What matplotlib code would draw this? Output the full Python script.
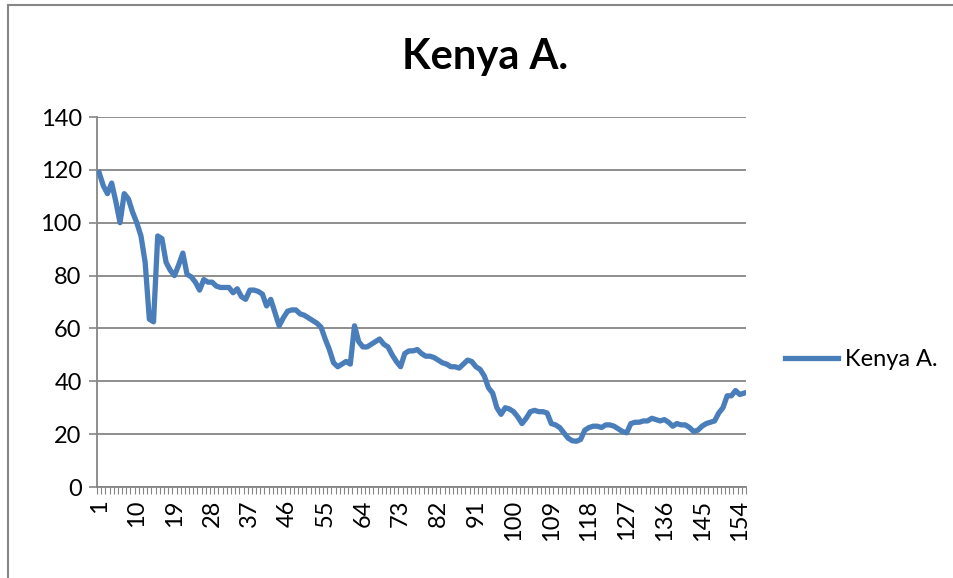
import numpy as np
import matplotlib
matplotlib.use("Agg")
from matplotlib import pyplot as plt
from matplotlib.patches import Rectangle

# valores (categorias 1..155)
kenya_a = [
    119, 114, 111, 115, 108, 100, 111, 109, 104, 100,
    95, 85, 63.5, 62.5, 95, 94, 85, 82, 80, 84,
    88.5, 80.5, 79.5, 77.5, 74.5, 78.5, 77.5, 77.5, 76, 75.5,
    75.5, 75.5, 73.5, 75, 72, 71, 74.5, 74.5, 74, 73,
    68.5, 71, 66, 61, 64, 66.5, 67, 67, 65.5, 65,
    64, 63, 62, 60.5, 56, 52, 47, 45.5, 46.5, 47.5,
    46.5, 61, 55, 53, 53, 54, 55, 56, 54, 53,
    50, 47.5, 45.5, 50.5, 51.5, 51.5, 52, 50.5, 49.5, 49.5,
    49, 48, 47, 46.5, 45.5, 45.5, 45, 46.5, 48, 47.5,
    45.5, 44.5, 42, 37.5, 35.5, 30, 27.5, 30, 29.5, 28.5,
    26.5, 24, 26, 28.5, 29, 28.5, 28.5, 28, 24, 23.5,
    22.5, 20.5, 18.5, 17.5, 17.3, 18, 21.5, 22.5, 23, 23,
    22.5, 23.5, 23.5, 23, 22, 21, 20.5, 24, 24.5, 24.5,
    25, 25, 26, 25.5, 25, 25.5, 24.5, 23, 24, 23.5,
    23.5, 22.5, 21, 21.5, 23, 24, 24.5, 25, 28, 30,
    34.5, 34.5, 36.5, 35, 35.5,
]
categories = np.arange(1, len(kenya_a) + 1)
label_cats = categories[::9]
y_ticks = [0, 20, 40, 60, 80, 100, 120, 140]

plt.rcParams['font.family'] = ['Lato', 'DejaVu Sans']
grey = "#868686"

fig = plt.figure(figsize=(9.54, 5.78), dpi=100)
# borda da área do gráfico
fig.patches.append(Rectangle((8 / 954, -0.05), 1.2, 1 - 5 / 578 + 0.05,
                             transform=fig.transFigure, fill=False,
                             edgecolor=grey, linewidth=1.5))

ax = fig.add_axes([97 / 954, 1 - 487 / 578, (746 - 97) / 954, (487 - 117) / 578])
ax.plot(categories, kenya_a, color="#4A7EBB", linewidth=3.8,
        solid_joinstyle="round", label="Kenya A.", zorder=3)

ax.set_xlim(0.5, len(kenya_a) + 0.5)
ax.set_ylim(0, 140)
ax.set_yticks(y_ticks)
ax.yaxis.grid(True, color=grey, linewidth=1.3)
ax.set_axisbelow(True)

ax.set_xticks(label_cats)
ax.set_xticklabels([str(c) for c in label_cats], rotation=90, fontsize=17)
ax.set_xticks(np.arange(0.5, len(kenya_a) + 1), minor=True)
ax.tick_params(axis="x", which="major", length=0, pad=9)
ax.tick_params(axis="x", which="minor", length=5, color=grey, width=0.8)
ax.tick_params(axis="y", length=6, color=grey, width=1.2, labelsize=17, pad=5)

for s in ["top", "right"]:
    ax.spines[s].set_visible(False)
for s in ["left", "bottom"]:
    ax.spines[s].set_color(grey)
    ax.spines[s].set_linewidth(1.3)

fig.text(485 / 954, 1 - 57 / 578, "Kenya A.", ha="center", va="center",
         fontsize=30, fontweight="bold")

ax.legend(loc="center left", bbox_to_anchor=(785 / 954, 1 - 360 / 578),
          bbox_transform=fig.transFigure, frameon=False, fontsize=17,
          handlelength=2.25, handletextpad=0.3, borderaxespad=0,
          borderpad=0)

plt.savefig("out.png", dpi=100)
plt.close()
